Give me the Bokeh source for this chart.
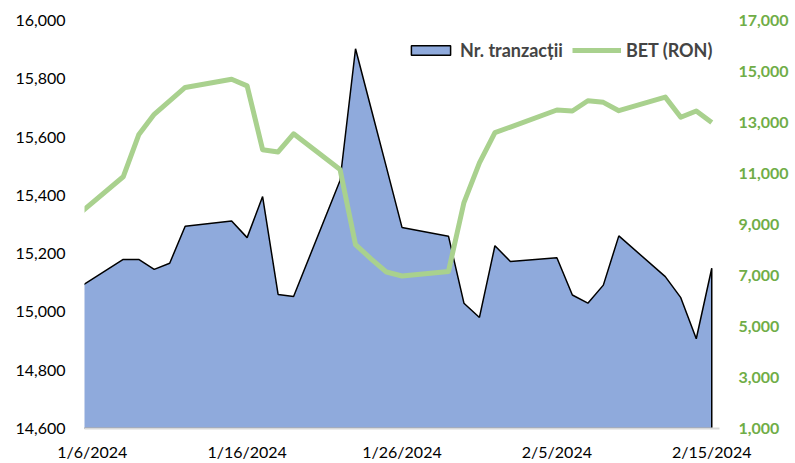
import pandas as pd
from bokeh.plotting import figure
from bokeh.models import Range1d, LinearAxis, FixedTicker, Legend, LegendItem, NumeralTickFormatter
from bokeh.embed import file_html
from bokeh.resources import INLINE

# ---- data ----
dates = ["2024-01-05", "2024-01-08", "2024-01-09", "2024-01-10", "2024-01-11", "2024-01-12",
         "2024-01-15", "2024-01-16", "2024-01-17", "2024-01-18", "2024-01-19",
         "2024-01-22", "2024-01-23", "2024-01-24", "2024-01-25", "2024-01-26",
         "2024-01-29", "2024-01-30", "2024-01-31", "2024-02-01", "2024-02-02",
         "2024-02-05", "2024-02-06", "2024-02-07", "2024-02-08", "2024-02-09",
         "2024-02-12", "2024-02-13", "2024-02-14", "2024-02-15"]
nr_tranzactii = [15079, 15180, 15180, 15146, 15167, 15294,
                 15312, 15255, 15396, 15060, 15053,
                 15451, 15903, 15699, 15495, 15290,
                 15260, 15030, 14981, 15227, 15173,
                 15186, 15058, 15030, 15092, 15261,
                 15121, 15049, 14908, 15150]
bet_ron = [9344, 10872, 12517, 13323, 13852, 14374,
           14696, 14436, 11934, 11844, 12556,
           11156, 8210, 7654, 7136, 6981,
           7160, 9860, 11416, 12607, 12821,
           13490, 13451, 13852, 13790, 13463,
           13996, 13206, 13451, 12996]
x_tick_labels = ["1/6/2024", "1/16/2024", "1/26/2024", "2/5/2024", "2/15/2024"]
left_ticks = [14600, 14800, 15000, 15200, 15400, 15600, 15800, 16000]
right_ticks = [1000, 3000, 5000, 7000, 9000, 11000, 13000, 15000, 17000]
series_names = ["Nr. tranzacții", "BET (RON)"]

# ---- derived positions (days from first tick date) ----
origin = pd.to_datetime(x_tick_labels[0], format="%m/%d/%Y")
x = [(pd.Timestamp(d) - origin).days for d in dates]
tick_pos = [(pd.to_datetime(t, format="%m/%d/%Y") - origin).days for t in x_tick_labels]

FONT = "Lato"
AREA_FILL = "#8FAADC"
LINE_GREEN = "#A9D18E"
LABEL_GREEN = "#70AD47"

p = figure(width=795, height=463, output_backend="svg", toolbar_location=None,
           x_range=Range1d(tick_pos[0] - 0.5, tick_pos[-1] + 0.5),
           y_range=Range1d(left_ticks[0], left_ticks[-1]),
           min_border_left=84, min_border_right=76, min_border_top=20, min_border_bottom=32)
p.extra_y_ranges = {"bet": Range1d(right_ticks[0], right_ticks[-1])}
p.outline_line_color = None
p.grid.visible = False
p.background_fill_color = "white"
p.border_fill_color = "white"

# area (as patch closed down to the axis minimum)
xs = x + [x[-1], x[0]]
ys = nr_tranzactii + [left_ticks[0], left_ticks[0]]
area_r = p.patch(xs, ys, fill_color=AREA_FILL, line_color="black", line_width=1.5)

line_r = p.line(x, bet_ron, y_range_name="bet", line_color=LINE_GREEN, line_width=5,
                line_join="round")

# bottom axis
xa = p.xaxis[0]
xa.ticker = FixedTicker(ticks=tick_pos)
xa.major_label_overrides = {tp: lab for tp, lab in zip(tick_pos, x_tick_labels)}
xa.axis_line_color = "#D9D9D9"
xa.axis_line_width = 2
xa.major_tick_line_color = None
xa.minor_tick_line_color = None
xa.major_tick_in = 0
xa.major_tick_out = 0
xa.major_label_text_font = FONT
xa.major_label_text_font_size = "16px"
xa.major_label_text_color = "black"
xa.major_label_standoff = 13

# left axis
ya = p.yaxis[0]
ya.ticker = FixedTicker(ticks=left_ticks)
ya.formatter = NumeralTickFormatter(format="0,0")
ya.axis_line_color = None
ya.major_tick_line_color = None
ya.minor_tick_line_color = None
ya.major_tick_in = 0
ya.major_tick_out = 0
ya.major_label_text_font = FONT
ya.major_label_text_font_size = "16px"
ya.major_label_text_color = "black"
ya.major_label_standoff = 19

# right axis
ra = LinearAxis(y_range_name="bet", ticker=FixedTicker(ticks=right_ticks),
                formatter=NumeralTickFormatter(format="0,0"))
ra.axis_line_color = None
ra.major_tick_line_color = None
ra.minor_tick_line_color = None
ra.major_tick_in = 0
ra.major_tick_out = 0
ra.major_label_text_font = FONT
ra.major_label_text_font_size = "16px"
ra.major_label_text_font_style = "bold"
ra.major_label_text_color = LABEL_GREEN
ra.major_label_standoff = 19
p.add_layout(ra, "right")

legend = Legend(items=[LegendItem(label=series_names[0], renderers=[area_r]),
                       LegendItem(label=series_names[1], renderers=[line_r])],
                orientation="horizontal", location=(322, 367),
                glyph_width=49, glyph_height=12, label_standoff=5, spacing=9,
                padding=0, margin=0, border_line_color=None, background_fill_alpha=0,
                label_text_font=FONT, label_text_font_size="18px",
                label_text_font_style="bold", label_height=14)
p.add_layout(legend)

open("out.html", "w").write(file_html(p, INLINE))
